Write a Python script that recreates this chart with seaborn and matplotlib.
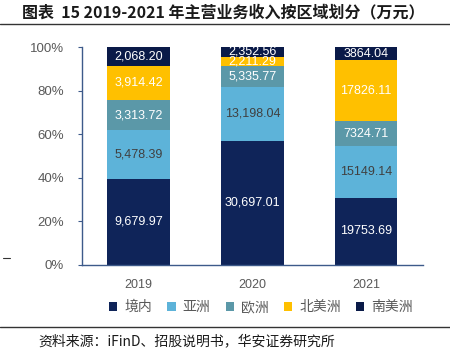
import matplotlib
matplotlib.use("Agg")
import matplotlib.pyplot as plt
import seaborn as sns
import pandas as pd
import numpy as np
from matplotlib.lines import Line2D
from matplotlib.patches import Patch

years = ["2019", "2020", "2021"]
regions = ["境内", "亚洲", "欧洲", "北美洲", "南美洲"]
domestic = [9679.97, 30697.01, 19753.69]
asia = [5478.39, 13198.04, 15149.14]
europe = [3313.72, 5335.77, 7324.71]
north_america = [3914.42, 2211.29, 17826.11]
south_america = [2068.20, 2352.56, 3864.04]
colors = ["#0F2459", "#5DB3D9", "#5B98A8", "#FFC000", "#0A1A48"]
label_colors = ["white", "#404040", "white", "white", "white"]

sns.set_theme(style="white")
plt.rcParams["font.family"] = ["Noto Sans CJK SC", "DejaVu Sans"]

vals = np.array([domestic, asia, europe, north_america, south_america])
pct = vals / vals.sum(axis=0) * 100
cum = np.cumsum(pct, axis=0)

fig = plt.figure(figsize=(4.5, 3.57), dpi=100)
ax = fig.add_axes([0.182, 0.258, 0.758, 0.61])

# draw cumulative bars from top segment down so they overlay into a stack
for i in range(len(regions) - 1, -1, -1):
    df = pd.DataFrame({"year": years, "cum": cum[i]})
    sns.barplot(data=df, x="year", y="cum", color=colors[i], width=0.55,
                saturation=1, ax=ax, linewidth=0)

for j, yr in enumerate(years):
    for i in range(len(regions)):
        v = vals[i, j]
        txt = f"{v:,.2f}" if yr != "2021" else f"{v:.2f}"
        center = cum[i, j] - pct[i, j] / 2
        ax.text(j, center, txt, ha="center", va="center", fontsize=9,
                color=label_colors[i], family="Liberation Sans")

ax.set_xlim(-0.5, 2.5)
ax.set_ylim(0, 100)
ax.set_yticks([0, 20, 40, 60, 80, 100])
ax.set_yticklabels([f"{t}%" for t in [0, 20, 40, 60, 80, 100]])
ax.set_xlabel("")
ax.set_ylabel("")
for s in ["top", "right"]:
    ax.spines[s].set_visible(False)
for s in ["left", "bottom"]:
    ax.spines[s].set_color("#3D5A8A")
    ax.spines[s].set_linewidth(1.0)
ax.tick_params(axis="y", left=True, length=3, width=0.8, color="#3D5A8A",
               labelsize=9.5, labelcolor="#595959", pad=10)
ax.tick_params(axis="x", bottom=False, labelsize=9, labelcolor="#595959", pad=4)
for lab in ax.get_yticklabels() + ax.get_xticklabels():
    lab.set_family("Liberation Sans")

handles = [Patch(facecolor=c, edgecolor="none") for c in colors]
fig.legend(handles, regions, loc="center", bbox_to_anchor=(0.58, 0.14), ncol=5,
           frameon=False, fontsize=10, handlelength=0.6, handleheight=0.6,
           handletextpad=0.5, columnspacing=1.1, labelcolor="#595959")

fig.text(0.05, 0.965, "图表  15 2019-2021 年主营业务收入按区域划分（万元）",
         fontsize=11.5, fontweight="bold", ha="left", va="center", color="#1a1a1a")
fig.add_artist(Line2D([0, 1], [0.932, 0.932], color="#333333", lw=1.0))
fig.add_artist(Line2D([0, 1], [0.084, 0.084], color="#333333", lw=1.0))
fig.add_artist(Line2D([0.007, 0.022], [0.277, 0.277], color="#333333", lw=0.8))
fig.text(0.085, 0.045, "资料来源：iFinD、招股说明书，华安证券研究所",
         fontsize=10, ha="left", va="center", color="#1a1a1a")

fig.savefig("out.png", dpi=100)
